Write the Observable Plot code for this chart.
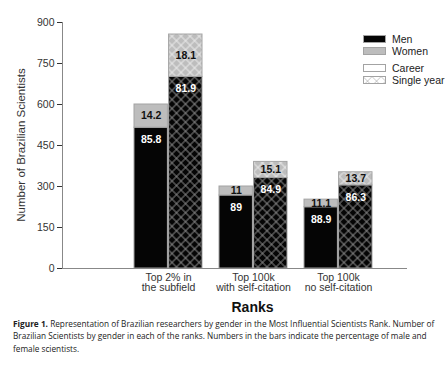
<!DOCTYPE html>
<html><head><meta charset="utf-8">
<script src="https://cdn.jsdelivr.net/npm/d3@7"></script>
<script src="https://cdn.jsdelivr.net/npm/@observablehq/plot@0.6"></script>
<style>
body{margin:0;background:#fff;font-family:"Liberation Sans",Arial,sans-serif;}
#wrap{position:relative;width:448px;height:365px;overflow:hidden;}
#chart{position:absolute;left:0;top:0;}
#legend{position:absolute;left:363px;top:33px;font-size:10.5px;color:#222;line-height:12px;}
#legend .it{display:flex;align-items:center;height:12px;}
#legend svg{margin-right:6px;}
#ylab{position:absolute;left:21px;top:145px;transform:translate(-50%,-50%) rotate(-90deg);white-space:nowrap;font-size:11.5px;color:#333;}
#ranks{position:absolute;left:0;width:505px;top:299px;text-align:center;font-weight:bold;font-size:14px;color:#111;}
#cap{position:absolute;left:13px;top:318px;font-family:"Open Sans",sans-serif;font-size:8.25px;line-height:12.4px;color:#222;}
#cap div{white-space:nowrap;}
</style></head>
<body><div id="wrap"><div id="chart"></div>
<div id="ylab">Number of Brazilian Scientists</div>
<div id="legend"></div>
<div id="ranks">Ranks</div>
<div id="cap">
<div><b>Figure 1.</b> <span>Representation of Brazilian researchers by gender in the Most Influential Scientists Rank. Number of</span></div>
<div>Brazilian Scientists by gender in each of the ranks. Numbers in the bars indicate the percentage of male and</div>
<div>female scientists.</div>
</div>
</div>
<script>
const groups = ["Top 2% in\nthe subfield", "Top 100k\nwith self-citation", "Top 100k\nno self-citation"];
const menCareer = [515, 267, 224];
const womenCareer = [85, 33, 28];
const menSingle = [701, 331, 304];
const womenSingle = [155, 59, 48];
const pctMenCareer = [85.8, 89, 88.9];
const pctWomenCareer = [14.2, 11, 11.1];
const pctMenSingle = [81.9, 84.9, 86.3];
const pctWomenSingle = [18.1, 15.1, 13.7];
const yTicks = [0, 150, 300, 450, 600, 750, 900];

const rows = [];
groups.forEach((g, i) => {
  rows.push({group: g, type: "Career", sex: "Men", y1: 0, y2: menCareer[i], pct: pctMenCareer[i]});
  rows.push({group: g, type: "Career", sex: "Women", y1: menCareer[i], y2: menCareer[i] + womenCareer[i], pct: pctWomenCareer[i]});
  rows.push({group: g, type: "Single year", sex: "Men", y1: 0, y2: menSingle[i], pct: pctMenSingle[i]});
  rows.push({group: g, type: "Single year", sex: "Women", y1: menSingle[i], y2: menSingle[i] + womenSingle[i], pct: pctWomenSingle[i]});
});
const sel = (t, s) => rows.filter(d => d.type === t && d.sex === s);
const half = 34.6;
const colMen = "#050505", colWomen = "#bdbdbd", edge = "#a3a3a3";

function bars(t, s, fill) {
  const o = t === "Career" ? {insetRight: half} : {insetLeft: half};
  return Plot.barY(sel(t, s), {x: "group", y1: "y1", y2: "y2", fill, stroke: edge, strokeWidth: 1, ...o});
}

const plot = Plot.plot({
  width: 448, height: 296,
  marginLeft: 62, marginRight: 41, marginTop: 22, marginBottom: 28,
  style: {fontFamily: "Liberation Sans, Arial, sans-serif", fontSize: "10.5px", color: "#333"},
  x: {domain: groups, range: [133, 373], paddingInner: 0.2, paddingOuter: 0, label: null, tickSize: 0, tickPadding: 5},
  y: {domain: [0, 900], ticks: yTicks, tickSize: 5, tickPadding: 3, label: null},
  marks: [
    bars("Career", "Men", colMen),
    bars("Career", "Women", colWomen),
    bars("Single year", "Men", colMen),
    bars("Single year", "Women", colWomen),
    Plot.barY(sel("Single year", "Men"), {x: "group", y1: "y1", y2: "y2", fill: "url(#hatchDark)", insetLeft: half + 0.5, insetRight: 0.5, insetTop: 0.5}),
    Plot.barY(sel("Single year", "Women"), {x: "group", y1: "y1", y2: "y2", fill: "url(#hatchLight)", insetLeft: half + 0.5, insetRight: 0.5, insetTop: 0.5, insetBottom: 0.5}),
    Plot.text(sel("Career", "Men"), {x: "group", y: "y2", text: d => String(d.pct), dx: -17.3, dy: 12, fill: "white", fontWeight: "bold", fontSize: 10.5}),
    Plot.text(sel("Single year", "Men"), {x: "group", y: "y2", text: d => String(d.pct), dx: 17.3, dy: 12, fill: "white", fontWeight: "bold", fontSize: 10.5}),
    Plot.text(sel("Career", "Women"), {x: "group", y: d => (d.y1 + d.y2) / 2, text: d => String(d.pct), dx: -17.3, fill: "#111", fontWeight: "bold", fontSize: 10.5}),
    Plot.text(sel("Single year", "Women"), {x: "group", y: d => (d.y1 + d.y2) / 2, text: d => String(d.pct), dx: 17.3, fill: "#111", fontWeight: "bold", fontSize: 10.5}),
    Plot.ruleY([0], {stroke: "#888"}),
    Plot.frame({anchor: "left", stroke: "#888"})
  ]
});

const svg = d3.select(plot);
const defs = svg.insert("defs", ":first-child");
function pat(id, color) {
  const p = defs.append("pattern").attr("id", id).attr("patternUnits", "userSpaceOnUse")
    .attr("width", 6.4).attr("height", 6.4).attr("patternTransform", "rotate(45)");
  p.append("path").attr("d", "M0,0H6.4M0,0V6.4M0,6.4H6.4M6.4,0V6.4").attr("stroke", color).attr("stroke-width", 0.9).attr("fill", "none");
}
pat("hatchDark", "#8f8f8f");
pat("hatchLight", "#ececec");
document.getElementById("chart").appendChild(plot);

// legend
const legendItems = [
  {label: "Men", fill: colMen, mt: 0},
  {label: "Women", fill: colWomen, mt: 0},
  {label: "Career", fill: "white", mt: 5},
  {label: "Single year", fill: "hatch", mt: 0}
];
const leg = d3.select("#legend");
legendItems.forEach(it => {
  const row = leg.append("div").attr("class", "it").style("margin-top", it.mt + "px");
  const s = row.append("svg").attr("width", 23).attr("height", 8);
  if (it.fill === "hatch") {
    const p = s.append("defs").append("pattern").attr("id", "hatchLegend").attr("patternUnits", "userSpaceOnUse")
      .attr("width", 6.4).attr("height", 6.4).attr("patternTransform", "rotate(45)");
    p.append("path").attr("d", "M0,0H6.4M0,0V6.4").attr("stroke", "#a0a0a0").attr("stroke-width", 0.9).attr("fill", "none");
    s.append("rect").attr("x", 0.5).attr("y", 0.5).attr("width", 22).attr("height", 7).attr("fill", "url(#hatchLegend)").attr("stroke", edge);
  } else {
    s.append("rect").attr("x", 0.5).attr("y", 0.5).attr("width", 22).attr("height", 7).attr("fill", it.fill).attr("stroke", edge);
  }
  row.append("span").text(it.label);
});
</script>
</body></html>
